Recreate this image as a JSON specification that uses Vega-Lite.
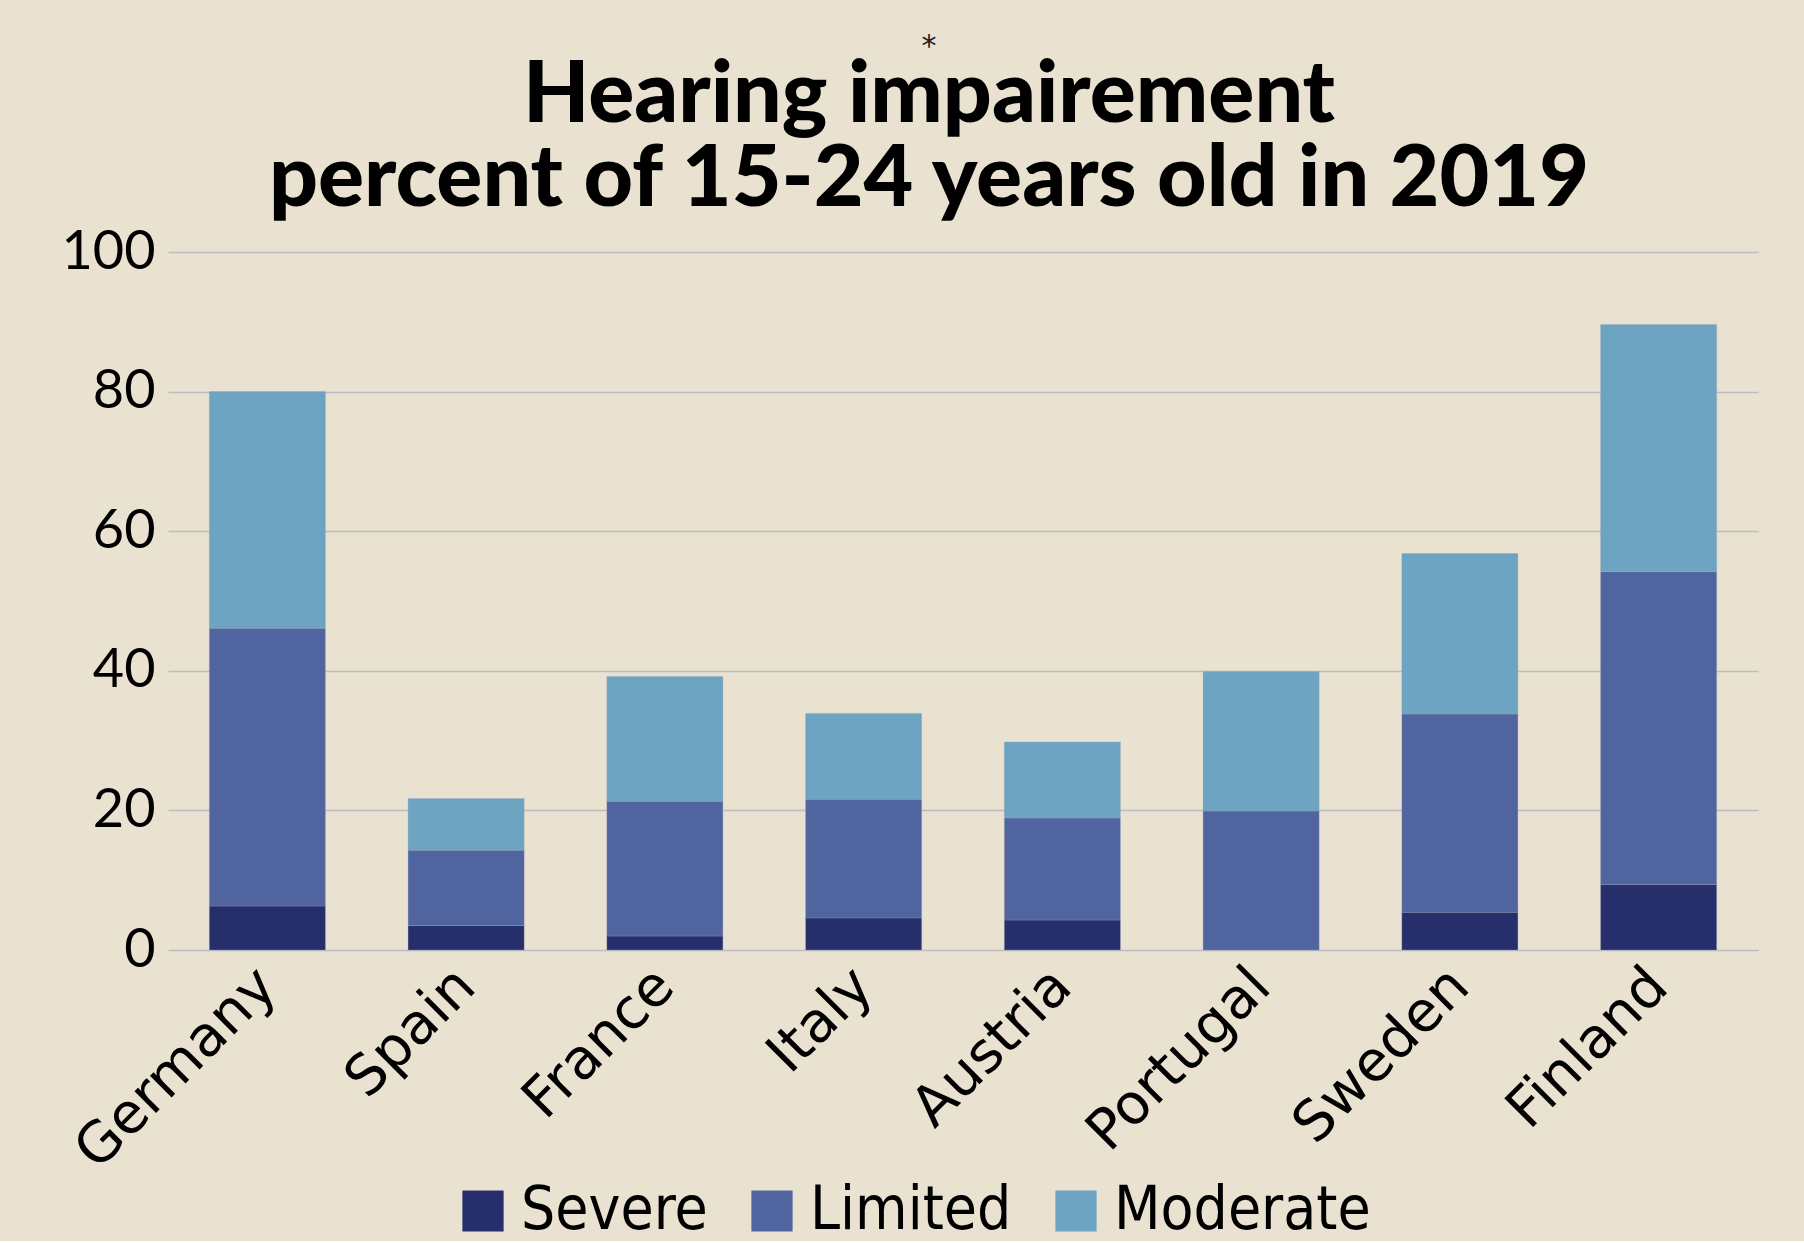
{
  "$schema": "https://vega.github.io/schema/vega-lite/v6.json",
  "width": 1590,
  "height": 698,
  "padding": {"left": 61, "top": 32, "right": 48, "bottom": 0},
  "background": "#e9e2d0",
  "title": {
    "text": "*",
    "fontSize": 30,
    "font": "DejaVu Sans",
    "fontWeight": "normal",
    "color": "#222222",
    "anchor": "middle",
    "dx": -34,
    "subtitle": ["Hearing impairement", "percent of 15-24 years old in 2019"],
    "subtitleFont": "Lato",
    "subtitleFontSize": 86,
    "subtitleFontWeight": 900,
    "subtitleColor": "#000000",
    "subtitleLineHeight": 84,
    "subtitlePadding": -8,
    "offset": 2
  },
  "data": {
    "values": [
      {"country": "Germany", "level": "Severe", "rank": 1, "value": 6.3},
      {"country": "Germany", "level": "Limited", "rank": 2, "value": 39.8},
      {"country": "Germany", "level": "Moderate", "rank": 3, "value": 33.9},
      {"country": "Spain", "level": "Severe", "rank": 1, "value": 3.5},
      {"country": "Spain", "level": "Limited", "rank": 2, "value": 10.8},
      {"country": "Spain", "level": "Moderate", "rank": 3, "value": 7.4},
      {"country": "France", "level": "Severe", "rank": 1, "value": 2.0},
      {"country": "France", "level": "Limited", "rank": 2, "value": 19.3},
      {"country": "France", "level": "Moderate", "rank": 3, "value": 17.9},
      {"country": "Italy", "level": "Severe", "rank": 1, "value": 4.6},
      {"country": "Italy", "level": "Limited", "rank": 2, "value": 17.0},
      {"country": "Italy", "level": "Moderate", "rank": 3, "value": 12.3},
      {"country": "Austria", "level": "Severe", "rank": 1, "value": 4.3},
      {"country": "Austria", "level": "Limited", "rank": 2, "value": 14.6},
      {"country": "Austria", "level": "Moderate", "rank": 3, "value": 10.9},
      {"country": "Portugal", "level": "Severe", "rank": 1, "value": 0},
      {"country": "Portugal", "level": "Limited", "rank": 2, "value": 19.9},
      {"country": "Portugal", "level": "Moderate", "rank": 3, "value": 20.0},
      {"country": "Sweden", "level": "Severe", "rank": 1, "value": 5.4},
      {"country": "Sweden", "level": "Limited", "rank": 2, "value": 28.4},
      {"country": "Sweden", "level": "Moderate", "rank": 3, "value": 23.0},
      {"country": "Finland", "level": "Severe", "rank": 1, "value": 9.4},
      {"country": "Finland", "level": "Limited", "rank": 2, "value": 44.8},
      {"country": "Finland", "level": "Moderate", "rank": 3, "value": 35.4}
    ]
  },
  "mark": {"type": "bar", "stroke": "#9aa0b8", "strokeWidth": 0.6, "strokeOpacity": 0.5},
  "encoding": {
    "x": {
      "field": "country",
      "type": "nominal",
      "sort": null,
      "scale": {"paddingInner": 0.416, "paddingOuter": 0.208},
      "axis": {
        "title": null,
        "labelAngle": -45,
        "labelAlign": "right",
        "labelBaseline": "middle",
        "labelFont": "DejaVu Sans",
        "labelFontSize": 56,
        "labelLimit": 600,
        "labelColor": "#000000",
        "labelPadding": 27,
        "ticks": false,
        "domain": false,
        "grid": false
      }
    },
    "y": {
      "field": "value",
      "type": "quantitative",
      "aggregate": "sum",
      "stack": "zero",
      "scale": {"domain": [0, 100]},
      "axis": {
        "title": null,
        "values": [0, 20, 40, 60, 80, 100],
        "labelFont": "Lato",
        "labelFontSize": 54,
        "labelColor": "#000000",
        "labelPadding": 13,
        "ticks": false,
        "domain": false,
        "grid": true,
        "gridColor": "#bdbcc4",
        "gridWidth": 1.5
      }
    },
    "color": {
      "field": "level",
      "type": "nominal",
      "scale": {
        "domain": ["Severe", "Limited", "Moderate"],
        "range": ["#262f6c", "#5064a0", "#6ca4c2"]
      },
      "legend": {
        "title": null,
        "orient": "none",
        "legendX": 285,
        "legendY": 929,
        "direction": "horizontal",
        "symbolType": "square",
        "symbolSize": 1700,
        "symbolStrokeWidth": 0,
        "symbolOpacity": 1,
        "labelFont": "DejaVu Sans Condensed",
        "labelFontSize": 60,
        "labelLimit": 600,
        "labelColor": "#000000",
        "columnPadding": 34,
        "labelOffset": 8
      }
    },
    "order": {"field": "rank", "type": "quantitative"}
  },
  "config": {"view": {"stroke": null}}
}
